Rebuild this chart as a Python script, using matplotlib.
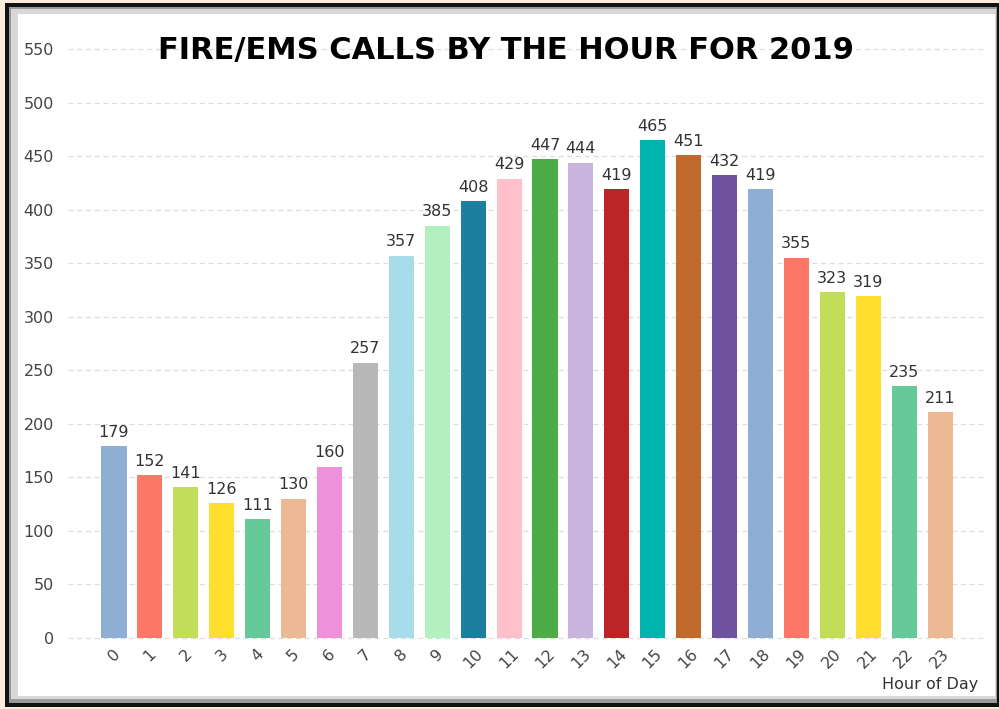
import matplotlib.pyplot as plt
from matplotlib.patches import Rectangle
import numpy as np

hours = [str(h) for h in range(24)]
calls = [179, 152, 141, 126, 111, 130, 160, 257, 357, 385, 408, 429,
         447, 444, 419, 465, 451, 432, 419, 355, 323, 319, 235, 211]
palette = ['#8FAED4', '#FF7766', '#C2DE58', '#FFDE2E', '#66C99A', '#EDB894',
           '#EE90DA', '#B8B8B8', '#A9DCEA', '#B2F0C0', '#1C7FA0', '#FFC0CC',
           '#4CAC48', '#C8B4DC', '#BC2426', '#00B4B0', '#C06A2C', '#6E52A0']
colors = [palette[i % len(palette)] for i in range(len(calls))]

W, H = 999, 709
fig = plt.figure(figsize=(W / 100, H / 100), dpi=100)
fig.patch.set_facecolor('#FBEBDD')

# frame: black border, grey bevel, white panel
def px_rect(x0, y0, x1, y1, color):
    fig.patches.append(Rectangle((x0 / W, 1 - y1 / H), (x1 - x0) / W, (y1 - y0) / H,
                                 transform=fig.transFigure, facecolor=color,
                                 edgecolor='none', zorder=-10))

px_rect(5, 3, 999, 707, '#111111')
px_rect(9, 7, 997, 703, '#9A9A9A')
px_rect(11, 9, 996, 699, '#D8D8D8')
px_rect(18, 14, 995, 696, 'white')

ax = fig.add_axes([68 / W, 71 / H, 917 / W, 589 / H])
ax.set_facecolor('none')
x = np.arange(len(calls))
bars = ax.bar(x, calls, width=0.7, color=colors, zorder=3)
for xi, v in zip(x, calls):
    ax.text(xi, v + 6, str(v), ha='center', va='bottom', fontsize=11.5,
            color='#333333', zorder=4)

ax.set_xlim(-1.28, 24.25)
ax.set_ylim(0, 550)
ax.set_yticks(range(0, 551, 50))
ax.grid(axis='y', linestyle=(0, (4, 3)), color='#DDDDDD', linewidth=0.9, zorder=0)
ax.set_xticks(x)
ax.set_xticklabels(hours, rotation=45, ha='center', fontsize=11.5, color='#444444')
for lbl in ax.get_yticklabels():
    lbl.set_fontsize(11.5)
    lbl.set_color('#444444')
ax.tick_params(length=0, pad=10)
ax.tick_params(axis='x', pad=6)
for s in ax.spines.values():
    s.set_visible(False)
for yl in ax.get_ygridlines():
    yl.set_clip_on(False)

fig.text(506 / W, 1 - 50 / H, 'FIRE/EMS CALLS BY THE HOUR FOR 2019',
         ha='center', va='center', fontsize=22, fontweight='bold', color='black')
fig.text(978 / W, 1 - 685 / H, 'Hour of Day', ha='right', va='center',
         fontsize=11.5, color='#333333')

fig.savefig('out.png', dpi=100, facecolor=fig.get_facecolor())
